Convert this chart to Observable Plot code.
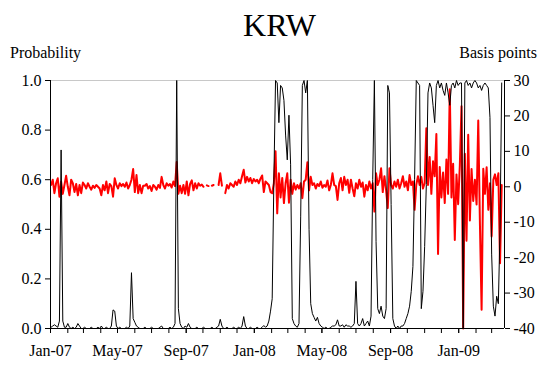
<!DOCTYPE html>
<html><head><meta charset="utf-8">
<script src="https://cdn.jsdelivr.net/npm/d3@7"></script>
<script src="https://cdn.jsdelivr.net/npm/@observablehq/plot@0.6"></script>
<style>
body{margin:0;background:#fff;}
#wrap{position:relative;width:547px;height:367px;font-family:"Liberation Serif","Times New Roman",serif;color:#000;overflow:hidden}
#chart{position:absolute;left:0;top:40px}
#chart svg text{font-family:"Liberation Serif","Times New Roman",serif !important;font-size:16px}
#title{position:absolute;left:0;width:547px;top:7px;text-align:center;font-size:32px;line-height:36px;padding-left:12px;box-sizing:border-box;z-index:2}
.axl{position:absolute;top:43px;font-size:16px;line-height:19px;z-index:2}
</style></head><body>
<div id="wrap">
<div id="chart"></div>
<div id="title">KRW</div>
<div class="axl" style="left:10px">Probability</div>
<div class="axl" style="right:10px">Basis points</div>
</div>
<script>
// Observation grid: one reading every 3 days starting 2 Jan 2007
const seriesStart = "2007-01-02";
const stepDays = 3;

// Probability (left axis), black line
const probability = [
0.005,0.01,0.015,0.01,0.005,0.03,0.72,0.03,0.005,0.005,
0.02,0.005,0,0.005,0,0.005,0.02,0.01,0,0,
0.005,0,0,0,0.005,0,0,0,0.005,0,
0.01,0,0,0.005,0,0,0.01,0.075,0.07,0.01,
0,0.005,0,0,0,0.005,0,0.01,0.225,0.04,
0.025,0.01,0.005,0,0,0,0.005,0,0,0,
0.005,0,0,0,0,0.005,0.01,0,0,0,
0,0.005,0,0.005,0.02,1.0,0.08,0.02,0.005,0,
0.01,0.005,0.02,0.005,0,0,0,0.005,0,0,
0,0.005,0,0,0,0,0.005,0,0,0.005,
0.01,0.037,0.01,0,0,0.005,0,0,0,0.005,
0,0,0.005,0,0.01,0.048,0.01,0,0,0.005,
0,0,0,0.005,0,0,0.005,0.012,0.005,0.01,
0.03,0.07,0.12,0.6,1.0,0.99,0.83,0.98,0.97,0.92,
0.78,0.68,0.86,0.66,0.04,0.02,0.01,0.005,0.02,0.45,
0.98,1.0,0.95,1.0,0.4,0.1,0.06,0.045,0.03,0.045,
0.02,0.01,0.005,0,0.005,0,0,0.005,0.01,0.01,
0.015,0.035,0.01,0.01,0.015,0.005,0.015,0.01,0.01,0.005,
0.01,0.02,0.19,0.02,0.01,0.02,0.04,0.01,0.02,0.03,
0.01,0.05,0.6,1.0,0.35,0.08,0.06,0.09,0.05,0.04,
0.08,0.98,0.95,0.5,0.04,0.01,0,0.01,0,0.01,
0.01,0.02,0.04,0.06,0.09,0.15,0.25,0.6,1.0,0.99,
0.98,0.08,0.15,0.33,0.58,0.95,0.99,0.97,0.9,0.83,
0.98,1.0,0.97,0.99,0.96,0.94,0.99,0.95,0.9,0.98,
0.99,0.97,1.0,0.98,0.99,0.99,0,0.99,1.0,0.98,
0.99,0.97,0.99,1.0,0.99,0.97,0.98,0.96,0.98,0.99,
0.98,0.97,0.85,0.3,0.09,0.05,0.13,0.1,0.4,0.99
];

// Basis points (right axis), red line; null = no observation
const basisPoints = [
0.5,2.0,-1.8,1.0,2.4,-2.8,1.5,-2.0,0.5,3.1,
0.0,-2.4,2.0,1.0,-1.5,0.8,-2.4,0.5,-1.8,1.2,
0.5,-0.5,1.0,0.0,-0.8,0.3,-0.3,0.5,0.0,-0.5,
-2.4,0.5,-1.0,1.5,-1.8,0.8,0.2,-2.8,2.4,0.5,
-0.5,1.0,0.2,0.8,0.0,1.2,-0.5,0.5,2.0,5.0,
-1.5,3.3,-1.8,0.5,-1.8,0.3,0.3,0.8,-0.5,0.2,
-1.2,0.5,0.0,-0.8,0.5,-0.3,2.8,0.5,-0.5,1.0,
0.3,0.8,-0.2,1.5,0.2,7.0,-2.0,0.3,-1.8,0.5,
-2.0,1.5,-2.4,0.8,1.8,-1.0,1.0,-0.5,1.0,0.3,
0.6,0.0,null,0.4,0.2,null,0.3,0.5,null,null,
0.5,3.8,0.3,null,-1.8,0.5,-0.5,1.0,0.5,0.0,
1.5,0.5,2.0,1.0,3.0,4.8,1.2,2.8,1.5,2.5,
1.0,2.2,1.5,2.0,1.0,2.3,3.2,-1.5,1.5,1.0,
0.5,-1.5,-1.8,1.0,10.0,-7.5,3.8,-3.0,2.5,-4.6,
1.0,3.8,-4.5,2.0,-2.0,1.0,-0.8,0.5,-0.5,1.0,
-3.2,1.5,2.0,6.9,-1.0,2.8,0.5,1.0,-0.5,0.8,
0.2,1.5,-0.3,0.5,0.0,1.8,-1.0,0.5,3.8,0.5,
0.2,-3.7,1.0,2.5,-1.0,2.8,0.5,2.0,-1.7,2.0,
-0.5,-2.7,1.0,-0.5,2.0,0.0,1.2,-2.8,0.5,-1.0,
1.5,-0.5,1.0,-7.0,3.8,0.5,2.0,5.2,-1.5,3.0,
-1.0,-6.0,5.2,0.5,-0.5,1.5,0.0,2.0,-0.5,1.0,
3.0,0.0,1.5,-1.0,3.3,0.5,1.5,-6.5,0.5,3.0,
0.5,2.8,-0.5,1.0,16.5,0.5,8.4,-2.0,7.2,3.0,
14.9,-19.0,5.6,-3.0,4.0,-4.6,7.7,-2.0,27.5,-3.0,
6.5,-15.0,3.5,-4.9,6.0,22.7,-40,9.3,-15.2,14.7,
-9.5,5.0,-4.0,2.0,-5.0,18.7,-10.5,-34.7,5.1,-2.0,
5.5,-6.5,1.0,-14.0,2.0,3.5,0.5,3.8,-21.6,0.5
];

const leftTicks = [0, 0.2, 0.4, 0.6, 0.8, 1.0];
const rightTicks = [-40, -30, -20, -10, 0, 10, 20, 30];
const xTickLabels = ["Jan-07","May-07","Sep-07","Jan-08","May-08","Sep-08","Jan-09"];
const xTickDates = ["2007-01-01","2007-05-01","2007-09-01","2008-01-01","2008-05-01","2008-09-01","2009-01-01"];
const xDomain = ["2007-01-01","2009-03-24"];
const rightMin = -40, rightMax = 30;

const t0 = Date.parse(seriesStart);
const dayMs = 864e5;
const rows = probability.map((p, i) => ({
  date: new Date(t0 + i * stepDays * dayMs),
  p,
  bp: basisPoints[i]
}));
const toLeft = v => (v - rightMin) / (rightMax - rightMin);

const dom = xDomain.map(d => new Date(d));
const majorTicks = xTickDates.map(d => new Date(d));
const minorTicks = d3.utcMonth.range(dom[0], d3.utcDay.offset(dom[1], 1));

const chart = Plot.plot({
  width: 547,
  height: 327,
  marginLeft: 50,
  marginRight: 43,
  marginTop: 40,
  marginBottom: 39,
  style: {fontFamily: "'Liberation Serif','Times New Roman',serif", fontSize: "16px", background: "transparent", color: "#000"},
  x: {type: "utc", domain: dom},
  y: {domain: [0, 1]},
  marks: [
    Plot.ruleY([1], {stroke: "#c8c8c8", strokeWidth: 1}),
    Plot.line(rows, {x: "date", y: d => d.bp == null ? NaN : toLeft(d.bp), stroke: "#ff0000", strokeWidth: 2}),
    Plot.line(rows, {x: "date", y: "p", stroke: "#000", strokeWidth: 1}),
    Plot.ruleY([0], {stroke: "#000", strokeWidth: 1}),
    Plot.ruleX([dom[0]], {stroke: "#000", strokeWidth: 1}),
    Plot.ruleX([dom[1]], {stroke: "#000", strokeWidth: 1}),
    Plot.axisX(minorTicks, {tickSize: 5, tickFormat: () => "", label: null}),
    Plot.axisX(majorTicks, {tickSize: 5, tickPadding: 11, label: null,
      tickFormat: d => xTickLabels[majorTicks.findIndex(t => +t === +d)]}),
    Plot.axisY(leftTicks, {anchor: "left", tickSize: 5, tickPadding: 4, label: null,
      tickFormat: d => d.toFixed(1)}),
    Plot.axisY(rightTicks.map(toLeft), {anchor: "right", tickSize: 5, tickPadding: 4, label: null,
      tickFormat: d => String(Math.round(d * (rightMax - rightMin) + rightMin))})
  ]
});
document.getElementById("chart").appendChild(chart);
</script>
</body></html>
